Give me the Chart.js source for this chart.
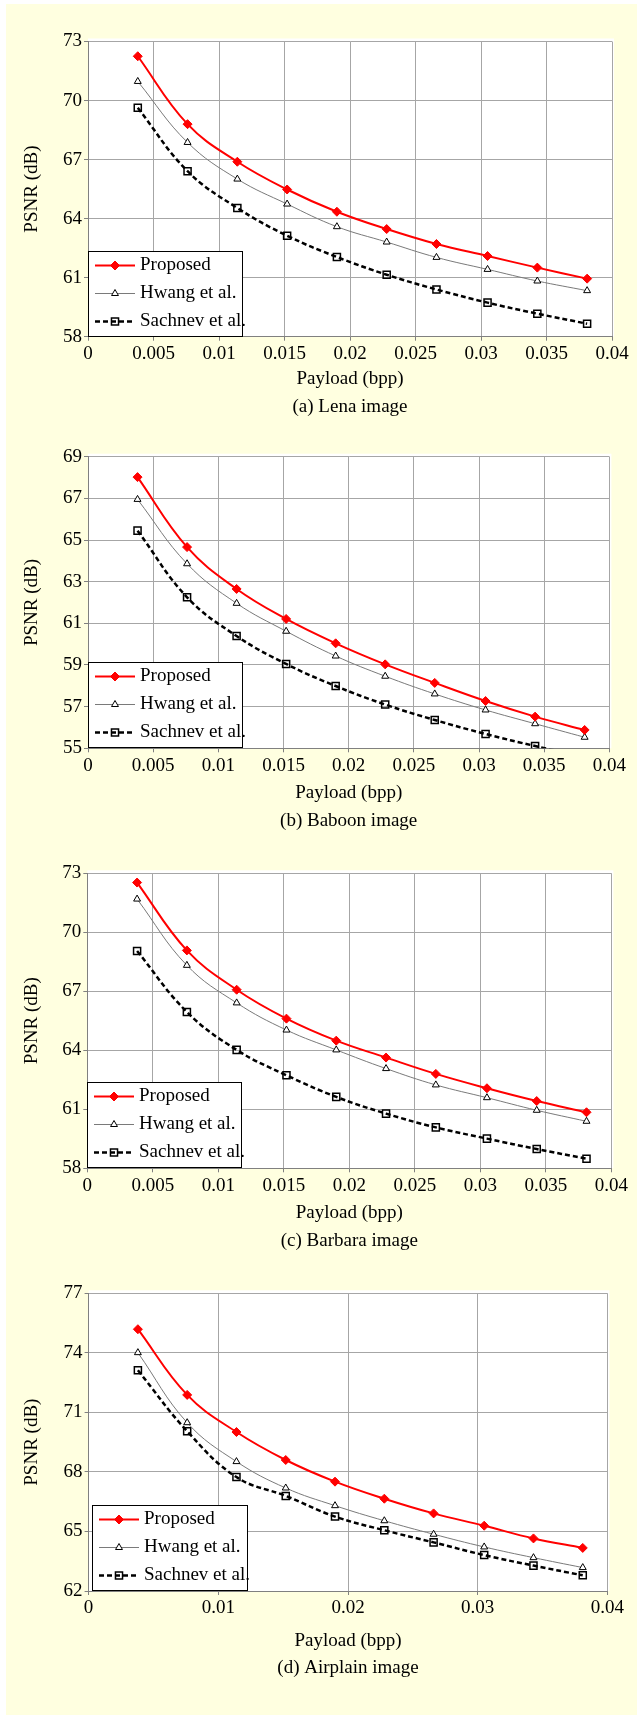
<!DOCTYPE html>
<html>
<head>
<meta charset="utf-8">
<script src="https://cdn.jsdelivr.net/npm/chart.js"></script>
<style>
html, body { margin: 0; padding: 0; background: #ffffff; }
body { width: 637px; height: 1719px; position: relative; overflow: hidden; }
#bg { position: absolute; left: 6px; top: 4px; width: 631px; height: 1711px; background: #FFFFE0; }
canvas { position: absolute; left: 0; }
</style>
</head>
<body>
<div id="bg"></div>
<canvas id="c1"></canvas>
<canvas id="c2"></canvas>
<canvas id="c3"></canvas>
<canvas id="c4"></canvas>
<script>
// ---------- data ----------
const payload = [0.0038, 0.0076, 0.0114, 0.0152, 0.0190, 0.0228, 0.0266, 0.0305, 0.0343, 0.0381];

const seriesNames = ['Proposed', 'Hwang et al.', 'Sachnev et al.'];

const lenaProposed = [72.25, 68.80, 66.89, 65.48, 64.35, 63.47, 62.71, 62.10, 61.51, 60.95];
const lenaHwang    = [70.97, 67.87, 66.01, 64.74, 63.59, 62.81, 62.03, 61.42, 60.83, 60.34];
const lenaSachnev  = [69.63, 66.41, 64.54, 63.13, 62.05, 61.15, 60.40, 59.73, 59.17, 58.66];

const baboonProposed = [68.02, 64.66, 62.65, 61.21, 60.04, 59.03, 58.14, 57.27, 56.52, 55.88];
const baboonHwang    = [66.95, 63.86, 61.96, 60.62, 59.43, 58.46, 57.61, 56.84, 56.18, 55.53];
const baboonSachnev  = [65.45, 62.25, 60.39, 59.05, 57.99, 57.10, 56.36, 55.69, 55.11, 54.60];

const barbaraProposed = [72.53, 69.08, 67.08, 65.61, 64.49, 63.63, 62.80, 62.07, 61.42, 60.85];
const barbaraHwang    = [71.69, 68.32, 66.41, 65.03, 64.02, 63.07, 62.24, 61.59, 60.95, 60.39];
const barbaraSachnev  = [69.05, 65.95, 64.02, 62.73, 61.63, 60.78, 60.08, 59.51, 58.98, 58.49];

const airplainProposed = [75.19, 71.88, 70.01, 68.60, 67.51, 66.65, 65.91, 65.29, 64.65, 64.17];
const airplainHwang    = [74.01, 70.48, 68.52, 67.19, 66.30, 65.54, 64.86, 64.22, 63.68, 63.18];
const airplainSachnev  = [73.12, 70.05, 67.74, 66.79, 65.75, 65.06, 64.45, 63.81, 63.28, 62.79];

const xTicksFine   = [0, 0.005, 0.01, 0.015, 0.02, 0.025, 0.03, 0.035, 0.04];
const xLabelsFine  = ['0', '0.005', '0.01', '0.015', '0.02', '0.025', '0.03', '0.035', '0.04'];
const xTicksCoarse  = [0, 0.01, 0.02, 0.03, 0.04];
const xLabelsCoarse = ['0', '0.01', '0.02', '0.03', '0.04'];

const yTicksLena     = [58, 61, 64, 67, 70, 73];
const yTicksBaboon   = [55, 57, 59, 61, 63, 65, 67, 69];
const yTicksBarbara  = [58, 61, 64, 67, 70, 73];
const yTicksAirplain = [62, 65, 68, 71, 74, 77];

const captions = ['(a) Lena image', '(b) Baboon image', '(c) Barbara image', '(d) Airplain image'];
const xTitle = 'Payload (bpp)';
const yTitle = 'PSNR (dB)';

// ---------- styling / layout ----------
const FONT = "'Liberation Serif', 'Times New Roman', serif";
const FS = 19;
Chart.defaults.font.family = FONT;
Chart.defaults.font.size = FS;
Chart.defaults.color = '#000';

const styles = [
  { borderColor: '#ff0000', borderWidth: 2, borderDash: [], pointStyle: 'rectRot', pointRadius: 4.5,
    pointBackgroundColor: '#ff0000', pointBorderColor: '#ff0000', pointBorderWidth: 1 },
  { borderColor: '#7a7a7a', borderWidth: 1, borderDash: [], pointStyle: 'triangle', pointRadius: 4,
    pointBackgroundColor: '#ffffff', pointBorderColor: '#000000', pointBorderWidth: 1 },
  { borderColor: '#000000', borderWidth: 2.5, borderDash: [5, 3], pointStyle: 'rect', pointRadius: 5,
    pointBackgroundColor: 'rgba(0,0,0,0)', pointBorderColor: '#000000', pointBorderWidth: 1.5 }
];

const plotBg = {
  id: 'plotBg',
  beforeDraw(chart) {
    const { ctx, chartArea: a } = chart;
    ctx.save();
    ctx.fillStyle = '#ffffff';
    ctx.fillRect(a.left, a.top - 3, a.right - a.left + 2, a.bottom - a.top + 3);
    ctx.restore();
  }
};

const boxLegend = {
  id: 'boxLegend',
  afterDatasetsDraw(chart, args, opts) {
    const { ctx, chartArea } = chart;
    const w = opts.width, h = opts.height;
    const x0 = Math.round(chartArea.left + opts.dx);
    const y0 = Math.round(chartArea.bottom - opts.dy - h);
    ctx.save();
    ctx.fillStyle = '#ffffff';
    ctx.fillRect(x0, y0, w, h);
    ctx.strokeStyle = '#000000';
    ctx.lineWidth = 1;
    ctx.setLineDash([]);
    ctx.strokeRect(x0 + 0.5, y0 + 0.5, w, h);
    chart.data.datasets.forEach((ds, i) => {
      const y = Math.round(y0 + opts.firstRow + i * opts.rowGap) + 0.5;
      ctx.save();
      ctx.strokeStyle = ds.borderColor;
      ctx.lineWidth = ds.borderWidth;
      ctx.setLineDash(ds.borderDash || []);
      ctx.beginPath();
      ctx.moveTo(x0 + 7, y);
      ctx.lineTo(x0 + 47, y);
      ctx.stroke();
      ctx.setLineDash([]);
      ctx.fillStyle = ds.pointBackgroundColor;
      ctx.strokeStyle = ds.pointBorderColor;
      ctx.lineWidth = ds.pointBorderWidth;
      Chart.helpers.drawPoint(ctx, { pointStyle: ds.pointStyle, radius: ds.pointRadius,
        borderWidth: ds.pointBorderWidth, rotation: 0 }, x0 + 27, y);
      ctx.restore();
      ctx.fillStyle = '#000';
      ctx.font = FS + 'px ' + FONT;
      ctx.textBaseline = 'middle';
      ctx.textAlign = 'left';
      ctx.fillText(ds.label, x0 + 52, y);
    });
    ctx.restore();
  }
};

function makeChart(id, box, caption, seriesVals, xTicks, xLabels, yTicks, legendOpts) {
  const LH = FS * 1.2;
  const canvasTop = Math.floor(box.top - 30);
  const padTop = box.top - canvasTop;
  const plotH = box.bottom - box.top;
  const xAxisH = box.titleY + LH / 2 - box.bottom;
  const capPadTop = box.capY - (box.titleY + LH / 2) - LH / 2;
  const titleH = LH + capPadTop;
  const used = padTop + plotH + xAxisH + titleH;
  const height = Math.ceil(used + 8);
  const padBottom = height - used;

  const canvas = document.getElementById(id);
  canvas.width = 637;
  canvas.height = height;
  canvas.style.width = '637px';
  canvas.style.height = height + 'px';
  canvas.style.top = canvasTop + 'px';

  const datasets = seriesVals.map((vals, i) => Object.assign({
    label: seriesNames[i],
    data: payload.map((x, k) => ({ x: x, y: vals[k] })),
    tension: 0.4,
    fill: false
  }, styles[i]));

  return new Chart(canvas, {
    type: 'line',
    data: { datasets: datasets },
    plugins: [plotBg, boxLegend],
    options: {
      responsive: false,
      animation: false,
      events: [],
      layout: { padding: { top: padTop, left: 0, right: 637 - box.right, bottom: padBottom } },
      plugins: {
        legend: { display: false },
        tooltip: { enabled: false },
        title: {
          display: true, text: caption, position: 'bottom', fullSize: false,
          padding: { top: capPadTop, bottom: 0 },
          font: { size: FS, weight: 'normal', family: FONT }, color: '#000'
        },
        boxLegend: legendOpts
      },
      scales: {
        x: {
          type: 'linear', min: xTicks[0], max: xTicks[xTicks.length - 1],
          afterBuildTicks: (s) => { s.ticks = xTicks.map(v => ({ value: v })); },
          afterFit: (s) => { s.height = xAxisH; },
          ticks: {
            autoSkip: false, maxRotation: 0, minRotation: 0, padding: 2, color: '#000',
            callback: (v, i) => xLabels[i]
          },
          grid: { color: '#a6a6a6', lineWidth: 1, tickLength: 4, tickColor: '#808080' },
          border: { color: '#808080', width: 1 },
          title: { display: true, text: xTitle, color: '#000', padding: { top: 0, bottom: 0 },
            font: { size: FS, family: FONT } }
        },
        y: {
          type: 'linear', min: yTicks[0], max: yTicks[yTicks.length - 1],
          afterBuildTicks: (s) => { s.ticks = yTicks.map(v => ({ value: v })); },
          afterFit: (s) => { s.width = box.left; },
          ticks: { padding: 2, color: '#000', callback: (v, i) => String(yTicks[i]) },
          grid: { color: '#a6a6a6', lineWidth: 1, tickLength: 4, tickColor: '#808080' },
          border: { color: '#808080', width: 1 },
          title: { display: true, text: yTitle, color: '#000', padding: { top: 32.5 - LH / 2, bottom: 0 },
            font: { size: FS, family: FONT } }
        }
      }
    }
  });
}

const legendBase = { dx: 0, dy: 1, width: 154, height: 85, firstRow: 14, rowGap: 28 };

makeChart('c1', { left: 88, top: 41.5, right: 612, bottom: 336.7, titleY: 379, capY: 407.3 },
  captions[0], [lenaProposed, lenaHwang, lenaSachnev], xTicksFine, xLabelsFine, yTicksLena, legendBase);

makeChart('c2', { left: 88, top: 456.7, right: 609.4, bottom: 748.3, titleY: 793.3, capY: 820.7 },
  captions[1], [baboonProposed, baboonHwang, baboonSachnev], xTicksFine, xLabelsFine, yTicksBaboon, legendBase);

makeChart('c3', { left: 87.3, top: 873.3, right: 611.4, bottom: 1168.3, titleY: 1213.3, capY: 1240.7 },
  captions[2], [barbaraProposed, barbaraHwang, barbaraSachnev], xTicksFine, xLabelsFine, yTicksBarbara, legendBase);

makeChart('c4', { left: 88.6, top: 1293.3, right: 607.4, bottom: 1591, titleY: 1640.7, capY: 1668.3 },
  captions[3], [airplainProposed, airplainHwang, airplainSachnev], xTicksCoarse, xLabelsCoarse, yTicksAirplain,
  Object.assign({}, legendBase, { dx: 3, width: 155 }));
</script>
</body>
</html>
